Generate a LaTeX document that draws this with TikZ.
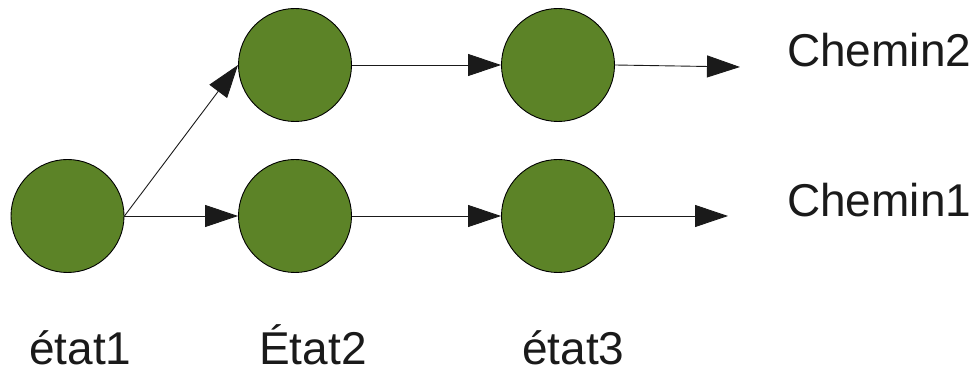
\documentclass[tikz,border=0pt]{standalone}
\usepackage{fontspec}
\setmainfont{Liberation Sans}
\usetikzlibrary{arrows.meta}
\definecolor{stategreen}{RGB}{92,131,39}
\definecolor{inkgray}{RGB}{26,26,26}
\begin{document}
\begin{tikzpicture}[x=1pt,y=-1pt,
  state/.style={circle,draw=black,line width=0.9pt,fill=stategreen,minimum size=113pt,inner sep=0pt},
  flow/.style={draw=inkgray,line width=0.9pt,-{Triangle[length=33pt,width=22pt]}},
  lbl/.style={inner sep=0pt,anchor=base west,text=inkgray,font=\fontsize{46}{55}\selectfont}]
  \useasboundingbox (0,0) rectangle (980,371);

  % states
  \node[state] (s1) at (67.5,216) {};
  \node[state] (s2a) at (295,65) {};
  \node[state] (s3a) at (558,65) {};
  \node[state] (s2b) at (295,216) {};
  \node[state] (s3b) at (558,216) {};

  % loose ends of the two paths
  \coordinate (end2) at (740,67);
  \coordinate (end1) at (728,216);

  % transitions
  \draw[flow] (s1.east) -- (s2a.west);
  \draw[flow] (s1.east) -- (s2b.west);
  \draw[flow] (s2a.east) -- (s3a.west);
  \draw[flow] (s2b.east) -- (s3b.west);
  \draw[flow] (s3a.east) -- (end2);
  \draw[flow] (s3b.east) -- (end1);

  % path names
  \node[lbl] (c2) at (787,67) {Chemin2};
  \node[lbl] (c1) at (787,217) {Chemin1};

  % state names
  \node[lbl] (e1) at (29,364) {état1};
  \node[lbl] (e2) at (259,364) {État2};
  \node[lbl] (e3) at (522,364) {état3};
\end{tikzpicture}
\end{document}
